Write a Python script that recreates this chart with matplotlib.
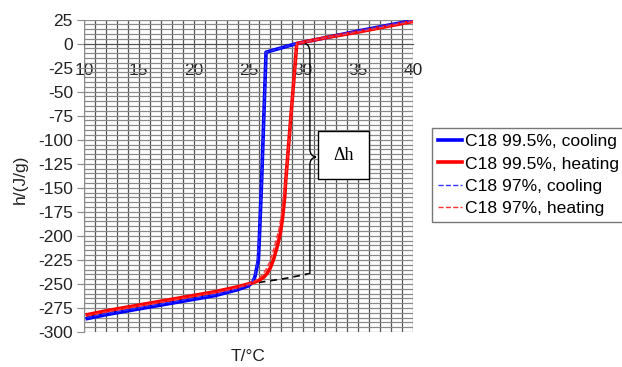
import numpy as np
import matplotlib
matplotlib.use('Agg')
import matplotlib.pyplot as plt
from matplotlib.path import Path
from matplotlib.patches import PathPatch

plt.rcParams['font.family'] = ['Liberation Sans', 'DejaVu Sans']
plt.rcParams['axes.unicode_minus'] = False

# C18 99.5%, cooling
t_cool_995 = [10.3, 12, 14, 16, 18, 20, 22, 24, 25, 25.4, 25.6, 25.9, 26.0, 26.2, 26.6, 29.4, 32, 35, 40]
h_cool_995 = [-286, -282, -278, -274, -270, -266, -262, -256, -252, -248, -242, -225, -200, -142, -9, 0, 6, 13, 24]

# C18 99.5%, heating
t_heat_995 = [10.3, 12, 14, 16, 18, 20, 22, 24, 25, 25.6, 26.0, 26.4, 26.7, 27.0, 27.3, 27.6, 27.9, 28.1, 28.3, 28.4, 29.4, 32, 35, 40]
h_heat_995 = [-282, -278, -274, -270, -266, -262, -258, -253, -250, -248, -246, -243, -239, -233, -224, -212, -198, -182, -160, -142, 0, 6, 12, 23]

# C18 97%, cooling
t_cool_97 = [10.3, 12, 14, 16, 18, 20, 22, 24, 25, 25.4, 25.6, 25.8, 26.0, 26.2, 26.6, 29.4, 32, 35, 40]
h_cool_97 = [-285, -281, -277, -273, -269, -265, -261, -255, -251, -247, -241, -226, -200, -142, -9, 0, 6, 13, 24]

# C18 97%, heating
t_heat_97 = [10.3, 12, 14, 16, 18, 20, 22, 24, 25, 25.6, 26.0, 26.3, 26.6, 26.9, 27.2, 27.5, 27.8, 28.0, 28.2, 28.4, 29.4, 32, 35, 40]
h_heat_97 = [-283, -279, -275, -271, -267, -263, -259, -254, -250, -247, -244, -240, -235, -228, -218, -205, -192, -178, -158, -142, 0, 6, 12, 23]

# extrapolated solid line (dashed black) used for the delta-h annotation
t_extrap = [10.3, 15, 20, 25, 28, 30.3]
h_extrap = [-284, -275, -264, -250, -245, -240]

fig = plt.figure(figsize=(6.22, 3.67), dpi=100)
ax = fig.add_axes([84/622, 1 - 332/367, 329/622, 312.5/367])

ax.set_xlim(10, 40)
ax.set_ylim(-300, 25)
ax.set_xticks(np.arange(10, 41, 5))
ax.set_xticks(np.arange(10, 41, 1), minor=True)
ax.set_yticks(np.arange(-300, 26, 25))
ax.set_yticks(np.arange(-300, 26, 5), minor=True)

ax.grid(axis='x', which='both', color='#555555', linewidth=0.9)
ax.grid(axis='y', which='both', color='#8a8a8a', linewidth=0.9)
ax.set_axisbelow(True)

for s in ['top', 'right']:
    ax.spines[s].set_visible(False)
ax.spines['left'].set_color('#8a8a8a')
ax.spines['bottom'].set_position(('data', 0))
ax.spines['bottom'].set_color('#555555')
ax.tick_params(axis='x', which='both', length=0, pad=14, labelsize=12.5, colors='#222222')
ax.tick_params(axis='y', which='major', length=5, direction='out', color='#8a8a8a', pad=3,
               labelsize=12.5, labelcolor='#222222')
ax.tick_params(axis='y', which='minor', length=0)

ax.plot(t_extrap, h_extrap, color='black', linestyle='--', linewidth=1.2, dashes=(4, 3), zorder=3)
ax.plot(t_cool_995, h_cool_995, color='#0000ff', linewidth=2.6, label='C18 99.5%, cooling', zorder=4)
ax.plot(t_heat_995, h_heat_995, color='#ff0000', linewidth=2.6, label='C18 99.5%, heating', zorder=5)
ax.plot(t_cool_97, h_cool_97, color='#3333ff', linewidth=1.0, linestyle='--', label='C18 97%, cooling', zorder=6)
ax.plot(t_heat_97, h_heat_97, color='#ff3333', linewidth=1.0, linestyle='--', label='C18 97%, heating', zorder=6)

# curly brace for delta h
verts = [(30.15, 0), (30.6, -1), (30.6, -10), (30.6, -15),
         (30.6, -110), (30.6, -117), (31.15, -118),
         (30.6, -119), (30.6, -126), (30.6, -226),
         (30.6, -231), (30.6, -239), (30.15, -240)]
codes = [Path.MOVETO, Path.CURVE3, Path.CURVE3, Path.LINETO,
         Path.LINETO, Path.CURVE3, Path.CURVE3,
         Path.CURVE3, Path.CURVE3, Path.LINETO,
         Path.CURVE3, Path.CURVE3, Path.LINETO]
ax.add_patch(PathPatch(Path(verts, codes), facecolor='none', edgecolor='black', linewidth=1.0, zorder=7))

ax.text(33.65, -116, '\u0394h', family=['Liberation Serif', 'DejaVu Serif'], fontsize=13,
        ha='center', va='center', zorder=8,
        bbox=dict(boxstyle='square,pad=0.85', facecolor='white', edgecolor='black', linewidth=1.0))

ax.set_xlabel('T/\u00b0C', fontsize=12.5, color='#222222')
ax.xaxis.set_label_coords(0.5, -0.055)
ax.set_ylabel('h/(J/g)', fontsize=12.5, color='#222222')
ax.yaxis.set_label_coords(-0.17, 0.49)

leg = fig.legend(loc='center left', bbox_to_anchor=(432/622, 1 - 175/367), fontsize=12.6,
                 frameon=True, fancybox=False, handlelength=1.35, handletextpad=0.2,
                 borderpad=0.35, borderaxespad=0, labelspacing=0.4)
leg.get_frame().set_edgecolor('#555555')
leg.get_frame().set_linewidth(1.0)

fig.savefig('out.png', dpi=100)
